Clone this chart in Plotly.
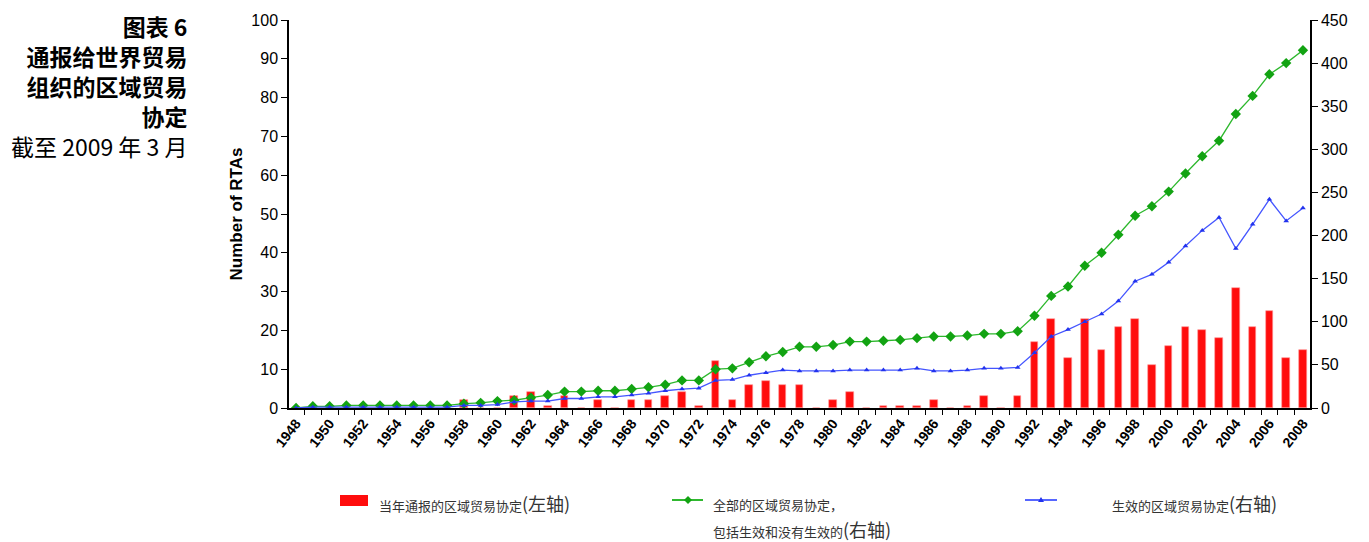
import plotly.graph_objects as go

years = list(range(1948, 2009))

# RTAs notified in the year (left axis)
notified = [0, 0, 0, 0, 0, 0, 0, 0, 0, 0, 2, 0, 0, 3, 4, 0.4, 3, 0, 2, 0,
            2, 2, 3, 4, 0.4, 12, 2, 6, 7, 6, 6, 0, 2, 4, 0, 0.4, 0.4, 0.4,
            2, 0, 0.4, 3, 0, 3, 17, 23, 13, 23, 15, 21, 23, 11, 16, 21, 20,
            18, 31, 21, 25, 13, 15]

# cumulative RTAs, in force and not in force (right axis)
all_rtas = [0, 2, 2, 3, 3, 3, 3, 3, 3, 3, 5, 6, 8, 9, 12, 15, 19, 19, 20, 20,
            22, 24, 27, 32, 32, 45, 46, 53, 60, 65, 71, 71, 73, 77, 77, 78,
            79, 81, 83, 83, 84, 86, 86, 89, 107, 130, 141, 165, 180, 201, 223,
            234, 251, 272, 292, 310, 341, 362, 387, 400, 415]

# cumulative RTAs in force (right axis)
in_force = [0, 1, 1, 1, 1, 1, 1, 1, 1, 1, 3, 3, 4, 7, 8, 8, 11, 11, 13, 13,
            15, 17, 20, 22, 23, 32, 33, 38, 41, 44, 43, 43, 43, 44, 44, 44,
            44, 46, 43, 43, 44, 46, 46, 47, 64, 83, 91, 100, 109, 124, 147,
            155, 169, 188, 206, 221, 185, 213, 242, 217, 232]

label_years = list(range(1948, 2009, 2))

FONT = "Liberation Sans, Arial, sans-serif"
CJK = "Noto Sans CJK SC, sans-serif"

# page has an 8px body margin, so the figure is drawn 8px smaller
OFF = 8
W, H = 1369 - OFF, 542 - OFF
L, T, R, B = 289 - OFF, 20 - OFF, 1310 - OFF, 408 - OFF


def px_x(p):
    return (p - OFF - L) / (R - L)


def px_y(p):
    return 1 - (p - OFF - T) / (B - T)


fig = go.Figure()

fig.add_trace(go.Bar(
    x=years, y=notified, width=0.45, name="当年通报的区域贸易协定(左轴)",
    marker=dict(color="#FF0D0D", line=dict(width=0.6, color="#FF9A9A")),
))
fig.add_trace(go.Scatter(
    x=years, y=all_rtas, yaxis="y2", mode="lines+markers",
    name="全部的区域贸易协定",
    line=dict(color="#2DB82D", width=1.3),
    marker=dict(symbol="diamond", size=8, color="#12A312"),
))
fig.add_trace(go.Scatter(
    x=years, y=in_force, yaxis="y2", mode="lines+markers",
    name="生效的区域贸易协定",
    line=dict(color="#4455FF", width=1.3),
    marker=dict(symbol="triangle-up", size=5, color="#2233EE"),
))

fig.update_layout(
    width=W, height=H,
    margin=dict(l=L, r=W - R, t=T, b=H - B, autoexpand=False),
    plot_bgcolor="white", paper_bgcolor="white",
    showlegend=False, bargap=0,
    font=dict(family=FONT, size=16, color="black"),
    xaxis=dict(
        range=[1947.58, 2008.42], tickvals=label_years,
        ticktext=["<b>%d</b>" % y for y in label_years], tickangle=-52,
        ticks="", showgrid=False, zeroline=False,
        showline=True, linecolor="black", linewidth=1.5,
        tickfont=dict(family=FONT, size=14),
        minor=dict(ticks="outside", ticklen=5, tick0=1947.5, dtick=1,
                   tickcolor="black", tickwidth=1, showgrid=False),
    ),
    yaxis=dict(
        range=[0, 100], dtick=10, ticks="outside", ticklen=6,
        tickcolor="black", showgrid=False, zeroline=False,
        showline=True, linecolor="black", linewidth=1.5,
        title=dict(text="<b>Number of RTAs</b>", standoff=4,
                   font=dict(family=FONT, size=17)),
    ),
    yaxis2=dict(
        range=[0, 450], dtick=50, overlaying="y", side="right",
        ticks="outside", ticklen=6, tickcolor="black", showgrid=False,
        zeroline=False, showline=True, linecolor="black", linewidth=1.5,
    ),
)

# left-hand caption, one block so the lines do not overlap
caption = ("<b>图表 6</b><br><b>通报给世界贸易</b><br><b>组织的区域贸易</b>"
           "<br><b>协定</b><br>截至 2009 年 3 月")
fig.add_annotation(text=caption, xref="paper", yref="paper",
                   x=px_x(188), y=px_y(8), showarrow=False,
                   xanchor="right", yanchor="top", align="right", borderpad=0,
                   font=dict(family=CJK, size=23, color="black"))

# legend drawn below the plot
fig.add_shape(type="rect", xref="paper", yref="paper",
              x0=px_x(340), x1=px_x(368), y0=px_y(506), y1=px_y(495),
              fillcolor="#FF0D0D", line=dict(width=0))
fig.add_shape(type="line", xref="paper", yref="paper",
              x0=px_x(672), x1=px_x(703), y0=px_y(500), y1=px_y(500),
              line=dict(color="#19B019", width=1.8))
fig.add_shape(type="line", xref="paper", yref="paper",
              x0=px_x(1025), x1=px_x(1057), y0=px_y(500), y1=px_y(500),
              line=dict(color="#4455FF", width=1.8))
# legend symbols
dx, dy = 4, 4
gx, bx = 688, 1041
fig.add_shape(type="path", xref="paper", yref="paper",
              path="M %f,%f L %f,%f L %f,%f L %f,%f Z" % (
                  px_x(gx - dx), px_y(500), px_x(gx), px_y(500 - dy),
                  px_x(gx + dx), px_y(500), px_x(gx), px_y(500 + dy)),
              fillcolor="#12A312", line=dict(width=0))
fig.add_shape(type="path", xref="paper", yref="paper",
              path="M %f,%f L %f,%f L %f,%f Z" % (
                  px_x(bx - 3), px_y(502), px_x(bx), px_y(497),
                  px_x(bx + 3), px_y(502)),
              fillcolor="#2233EE", line=dict(width=0))

legend_texts = [
    ("当年通报的区域贸易协定<span style='font-size:18px'>(左轴)</span>", 377, 503),
    ("全部的区域贸易协定，", 711, 504),
    ("包括生效和没有生效的<span style='font-size:18px'>(右轴)</span>", 711, 529),
    ("生效的区域贸易协定<span style='font-size:18px'>(右轴)</span>", 1110, 503),
]
for txt, xp, yp in legend_texts:
    fig.add_annotation(xref="paper", yref="paper", x=px_x(xp), y=px_y(yp),
                       text=txt, showarrow=False, xanchor="left",
                       yanchor="middle", font=dict(family=CJK, size=13, color="#333"))

fig.write_html("out.html")
